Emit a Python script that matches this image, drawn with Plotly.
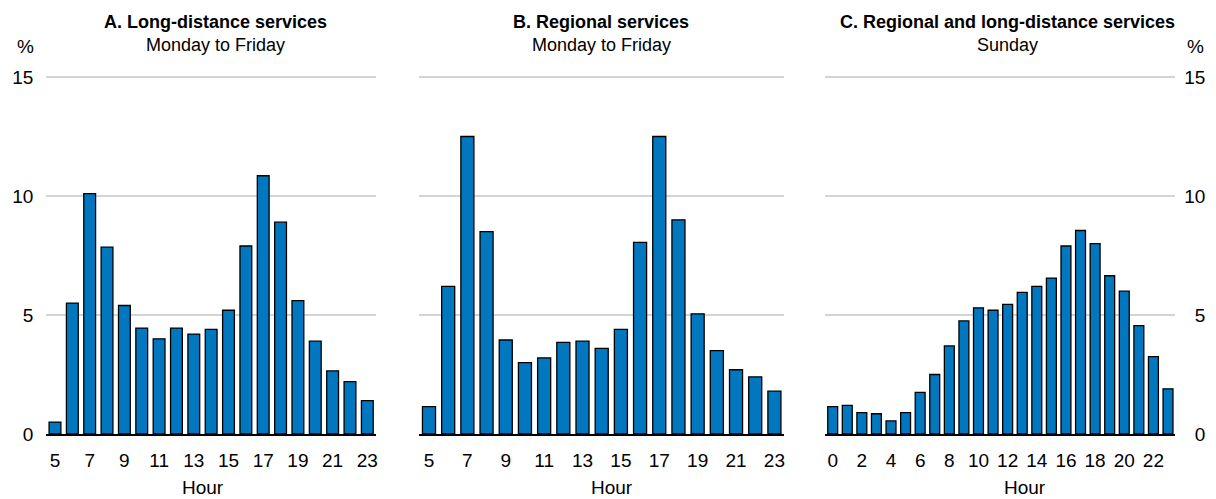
"""Share of daily train departures by hour, three panels."""

import plotly.graph_objects as go

W, H = 1216, 499

# Panel A: long-distance services, Monday to Friday
hours_a = list(range(5, 24))
share_a = [0.5, 5.5, 10.1, 7.85, 5.4, 4.45, 4.0, 4.45, 4.2, 4.4, 5.2,
           7.9, 10.85, 8.9, 5.6, 3.9, 2.65, 2.2, 1.4]

# Panel B: regional services, Monday to Friday
hours_b = list(range(5, 24))
share_b = [1.15, 6.2, 12.5, 8.5, 3.95, 3.0, 3.2, 3.85, 3.9, 3.6, 4.4,
           8.05, 12.5, 9.0, 5.05, 3.5, 2.7, 2.4, 1.8]

# Panel C: regional and long-distance services, Sunday
hours_c = list(range(0, 24))
share_c = [1.15, 1.2, 0.9, 0.85, 0.55, 0.9, 1.75, 2.5, 3.7, 4.75, 5.3,
           5.2, 5.45, 5.95, 6.2, 6.55, 7.9, 8.55, 8.0, 6.65, 6.0, 4.55,
           3.25, 1.9]

titles = [
    ("A. Long-distance services", "Monday to Friday"),
    ("B. Regional services", "Monday to Friday"),
    ("C. Regional and long-distance services", "Sunday"),
]
y_ticks = [0, 5, 10, 15]

FONT = "Liberation Sans, Arial, sans-serif"
BAR_COLOR = "#0077BE"
GRID = "#d4d4d4"


def px_x(x):
    return x / W


def px_y(y):
    return (H - y) / H


# plot areas in pixels (left, right); zero line at y=434, 15 at y=77
panels = [(46.3, 376.0), (419.4, 784.0), (825.4, 1175.3)]
y_zero, y_15 = 434.0, 77.0
unit = (y_zero - y_15) / 15
y_top = 15.4
y_dom = [px_y(y_zero), px_y(y_zero - unit * y_top)]

fig = go.Figure()

data = [(hours_a, share_a), (hours_b, share_b), (hours_c, share_c)]
for i, (hrs, vals) in enumerate(data, start=1):
    fig.add_trace(go.Bar(
        x=hrs, y=vals,
        xaxis=f"x{i}" if i > 1 else "x",
        yaxis=f"y{i}" if i > 1 else "y",
        marker=dict(color=BAR_COLOR, line=dict(color="black", width=1.3)),
        showlegend=False,
    ))

axis_font = dict(family=FONT, size=19, color="black")

layout = dict(
    width=W, height=H,
    margin=dict(l=0, r=0, t=0, b=0),
    plot_bgcolor="white", paper_bgcolor="white",
    bargap=0.32,
    font=dict(family=FONT, color="black"),
)

x_ranges = [[4.5, 23.5], [4.5, 23.5], [-0.5, 23.5]]
x_tick0 = [5, 5, 0]
for i, ((l, r), xr, t0) in enumerate(zip(panels, x_ranges, x_tick0), start=1):
    sfx = "" if i == 1 else str(i)
    layout[f"xaxis{sfx}"] = dict(
        domain=[px_x(l), px_x(r)], range=xr, anchor=f"y{sfx}",
        tick0=t0, dtick=2, showgrid=False, zeroline=False,
        showline=True, linecolor="black", linewidth=2,
        ticks="", tickfont=axis_font, ticklabelstandoff=8,
        automargin=False, fixedrange=True,
    )
    ax = dict(
        domain=y_dom, range=[0, y_top], anchor=f"x{sfx}",
        tickvals=y_ticks, showgrid=True, gridcolor=GRID, gridwidth=1.5,
        zeroline=False, showline=False, ticks="", tickfont=axis_font,
        automargin=False, fixedrange=True,
    )
    if i == 1:
        ax.update(side="left", ticklabelstandoff=12)
    elif i == 2:
        ax.update(showticklabels=False)
    else:
        # right side: pad single digits with figure spaces so they right-align
        ax.update(side="right", ticklabelstandoff=8,
                  ticktext=["\u20070", "\u20075", "10", "15"])
    layout[f"yaxis{sfx}"] = ax

fig.update_layout(**layout)

# panel titles
title_x = [215, 601, 1007]
for (t1, t2), cx in zip(titles, title_x):
    fig.add_annotation(text=f"<b>{t1}</b>", x=px_x(cx), y=px_y(22),
                       xref="paper", yref="paper", showarrow=False,
                       xanchor="center", yanchor="middle",
                       font=dict(family=FONT, size=18, color="black"))
    fig.add_annotation(text=t2, x=px_x(cx), y=px_y(45),
                       xref="paper", yref="paper", showarrow=False,
                       xanchor="center", yanchor="middle",
                       font=dict(family=FONT, size=18, color="black"))

# unit labels
for cx in [25, 1195]:
    fig.add_annotation(text="%", x=px_x(cx), y=px_y(47),
                       xref="paper", yref="paper", showarrow=False,
                       xanchor="center", yanchor="middle",
                       font=dict(family=FONT, size=19, color="black"))

# x-axis titles
for cx in [203, 612, 1025]:
    fig.add_annotation(text="Hour", x=px_x(cx), y=px_y(487),
                       xref="paper", yref="paper", showarrow=False,
                       xanchor="center", yanchor="middle",
                       font=dict(family=FONT, size=19, color="black"))

# drop the default page margin so the figure sits at the window's corner
fig.write_html("out.html", config={"displayModeBar": False},
               post_script="document.body.style.margin='0';")
